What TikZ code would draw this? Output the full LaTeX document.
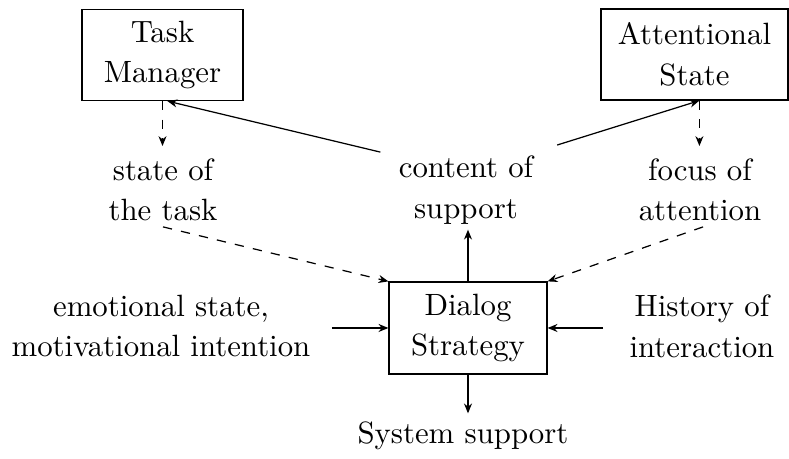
\documentclass[tikz,border=0pt]{standalone}
\usetikzlibrary{arrows.meta}
\newcommand\labelskip{\setlength{\baselineskip}{13.2pt}}
\begin{document}
\begin{tikzpicture}[x=0.3247pt,y=-0.3247pt,
  >={Stealth[length=3.2pt,width=2.6pt]},
  every node/.style={align=center,font=\labelskip},
  box/.style={draw,inner sep=0pt},
  lbl/.style={inner sep=0pt}]
\useasboundingbox (0,0) rectangle (789,459);
% boxes
\node[box,minimum width=52.28pt,minimum height=29.55pt] (tm) at (162.5,55) {Task\\Manager};
\node[box,minimum width=60.72pt,minimum height=29.55pt] (as) at (694.5,54.5) {Attentional\\State};
\node[box,minimum width=51.30pt,minimum height=29.87pt] (ds) at (468,328) {Dialog\\Strategy};
% labels
\node[lbl] (st) at (163,190) {state of\\the task};
\node[lbl] (co) at (466,190) {content of\\support};
\node[lbl] (fo) at (700,190) {focus of\\attention};
\node[lbl] (em) at (161,326) {emotional state,\\motivational intention};
\node[lbl] (hi) at (702,326) {History of\\interaction};
\node[lbl] (sy) at (463,436) {System support};
% connectors
\draw[dashed,->] (tm.south) -- ([yshift=3.9pt]st.north -| tm.south);
\draw[dashed,->] ([xshift=1.6pt]as.south) -- ([yshift=3.9pt,xshift=1.6pt]st.north -| as.south);
\draw[->] ([xshift=-5.8pt,yshift=12.3pt]co.west) -- ([xshift=1.6pt]tm.south);
\draw[->] ([xshift=7.6pt,yshift=14.6pt]co.east) -- ([xshift=1.6pt]as.south);
\draw[dashed,->] ([yshift=-1.6pt]st.south) -- (ds.north west);
\draw[dashed,->] ([xshift=1pt,yshift=-1.6pt]fo.south) -- (ds.north east);
\draw[->] (ds.north) -- ([yshift=-1.6pt]co.south -| ds.north);
\draw[->] ([xshift=6.8pt]em.east |- ds.west) -- (ds.west);
\draw[->] ([xshift=-8.4pt]hi.west |- ds.east) -- (ds.east);
\draw[->] (ds.south) -- ([yshift=2.6pt]sy.north -| ds.south);
\end{tikzpicture}
\end{document}
